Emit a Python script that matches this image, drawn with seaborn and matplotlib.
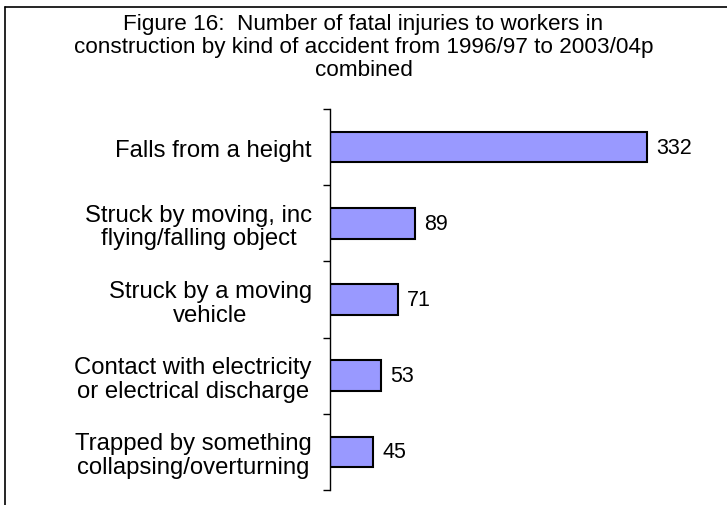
import matplotlib
matplotlib.use('Agg')
import matplotlib.pyplot as plt
import seaborn as sns
import pandas as pd
from matplotlib.lines import Line2D

# data
categories = [
    'Falls from a height',
    'Struck by moving, inc\nflying/falling object',
    'Struck by a moving\nvehicle',
    'Contact with electricity\nor electrical discharge',
    'Trapped by something\ncollapsing/overturning',
]
fatalities = [332, 89, 71, 53, 45]

title = ('Figure 16:  Number of fatal injuries to workers in\n'
         'construction by kind of accident from 1996/97 to 2003/04p\n'
         'combined')

sns.set_style('white')
plt.rcParams['font.family'] = ['Liberation Sans', 'DejaVu Sans']
plt.rcParams['text.color'] = 'black'
plt.rcParams['ytick.color'] = 'black'
plt.rcParams['ytick.labelcolor'] = 'black'

df = pd.DataFrame({'kind': categories, 'count': fatalities})

fig = plt.figure(figsize=(7.27, 5.06), dpi=100)
ax = fig.add_axes([330 / 727, 1 - 491 / 506, 382 / 727, 381 / 506])

sns.barplot(data=df, y='kind', x='count', orient='h', color='#9999FF',
            edgecolor='black', linewidth=1.5, width=0.4, saturation=1, ax=ax)

for i, v in enumerate(fatalities):
    ax.text(v + 10, i, str(v), va='center', ha='left', fontsize=15.5,
            color='black')

ax.set_xlim(0, 400)
ax.set_ylim(len(categories) - 0.5, -0.5)
ax.set_xlabel('')
ax.set_ylabel('')
ax.set_xticks([])

# category labels, centred lines, right aligned block
ax.set_yticks(range(len(categories)))
ax.set_yticklabels(categories, fontsize=17.2, multialignment='center',
                   linespacing=1.1)
ax.tick_params(axis='y', length=0, pad=13)
# minor ticks between categories
ax.set_yticks([i - 0.5 for i in range(len(categories) + 1)], minor=True)
ax.tick_params(axis='y', which='minor', length=5, width=1, color='black',
               direction='out', left=True)

for s in ['top', 'right', 'bottom']:
    ax.spines[s].set_visible(False)
ax.spines['left'].set_color('black')
ax.spines['left'].set_linewidth(1)

fig.text(0.5, 1 - 14 / 506, title, ha='center', va='top', fontsize=16.2,
         linespacing=1.12)

# outer frame (only top and left visible in the reference)
fig.add_artist(Line2D([4.5 / 727, 4.5 / 727], [0, 1 - 8 / 506],
                      color='black', linewidth=1.2, transform=fig.transFigure))
fig.add_artist(Line2D([4.5 / 727, 1], [1 - 8 / 506, 1 - 8 / 506],
                      color='black', linewidth=1.2, transform=fig.transFigure))

fig.savefig('out.png', dpi=100)
